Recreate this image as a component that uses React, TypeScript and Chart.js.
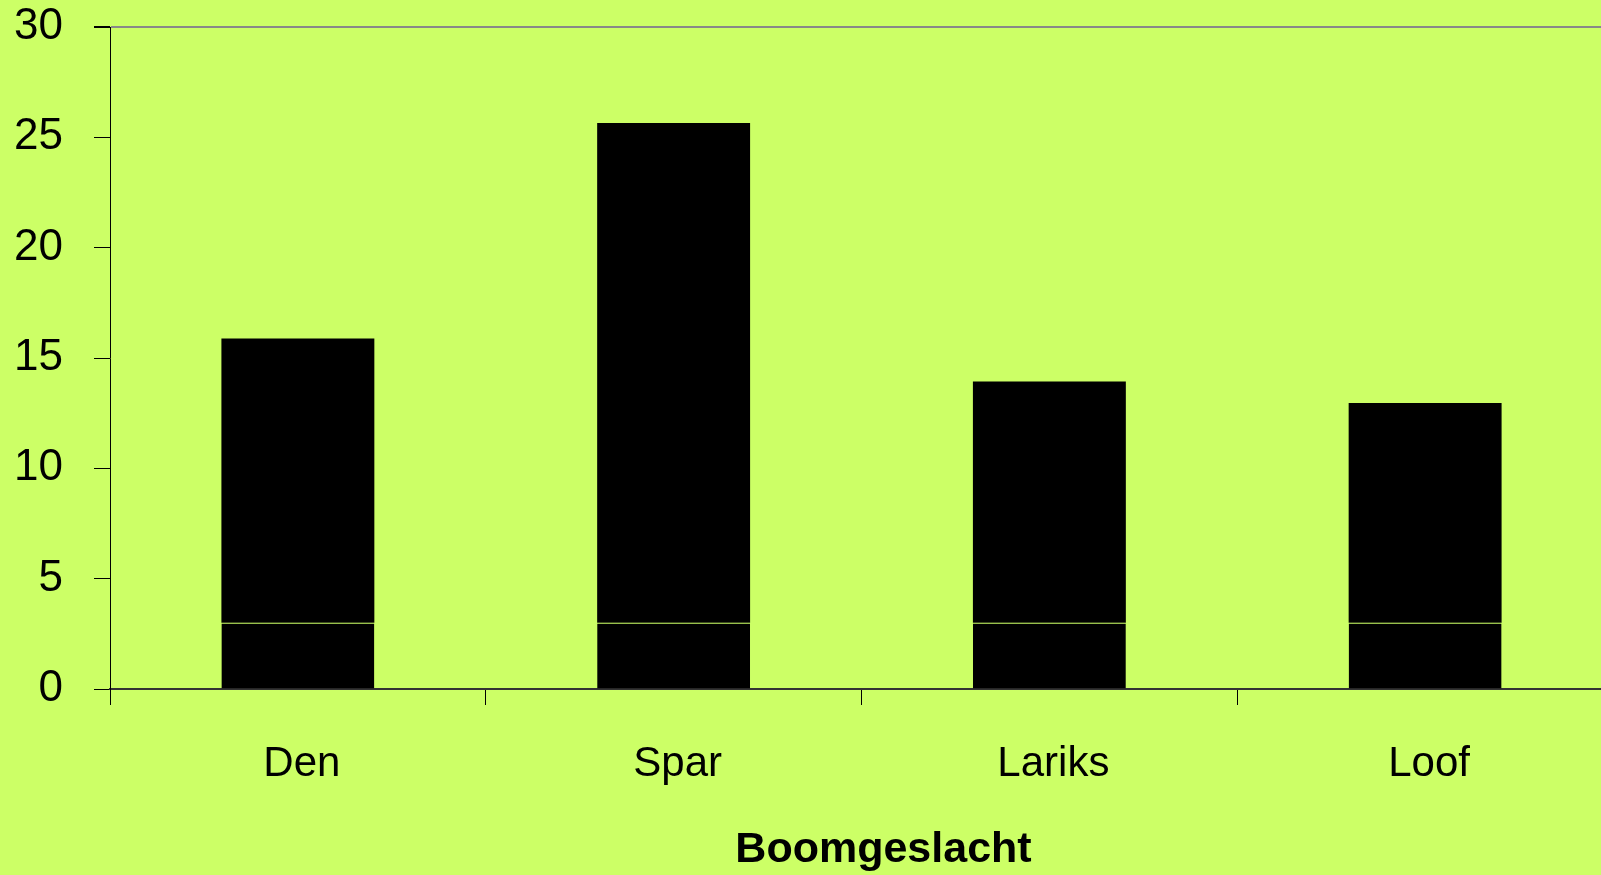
import React, { useEffect, useRef } from "react";
import { Chart, registerables } from "chart.js";

Chart.register(...registerables);

const categories = ["Den", "Spar", "Lariks", "Loof"];
const baseValues = [3, 3, 3, 3];
const upperValues = [12.88, 22.65, 10.93, 9.96];
const yMin = 0;
const yMax = 30;
const yStep = 5;
const xTitle = "Boomgeslacht";

const BG = "#CCFF66";
const FONT = "'Liberation Sans', Arial, sans-serif";

export default function App() {
  const ref = useRef<HTMLCanvasElement | null>(null);

  useEffect(() => {
    document.body.style.background = BG;
    document.body.style.overflow = "hidden";
    const canvas = ref.current!;
    const titlePlugin = {
      id: "xTitlePlugin",
      afterDraw(chart: any) {
        const { ctx, chartArea } = chart;
        ctx.save();
        ctx.font = `bold 43px ${FONT}`;
        ctx.fillStyle = "#000";
        ctx.textAlign = "center";
        ctx.textBaseline = "alphabetic";
        ctx.fillText(xTitle, (chartArea.left + chartArea.right) / 2 + 22, chartArea.bottom + 173);
        ctx.restore();
      },
    };
    const chart = new Chart(canvas, {
      type: "bar",
      data: {
        labels: categories,
        datasets: [
          {
            data: baseValues,
            backgroundColor: "#000",
            borderColor: BG,
            borderWidth: { top: 1, left: 0, right: 0, bottom: 0 },
            borderSkipped: false,
            barPercentage: 0.407,
            categoryPercentage: 1,
          },
          {
            data: upperValues,
            backgroundColor: "#000",
            borderWidth: 0,
            barPercentage: 0.407,
            categoryPercentage: 1,
          },
        ],
      },
      options: {
        responsive: false,
        animation: false,
        layout: { padding: { top: 27, right: 27, left: 0, bottom: 0 } },
        plugins: {
          legend: { display: false },
          tooltip: { enabled: false },
          title: { display: false },
        },
        scales: {
          x: {
            stacked: true,
            afterFit: (s: any) => {
              s.height = 186;
              s.paddingLeft = 0;
              s.paddingRight = 0;
            },
            grid: {
              display: true,
              offset: true,
              color: "rgba(0,0,0,0)",
              tickColor: "#000",
              tickLength: 16,
              lineWidth: 1,
            },
            border: { display: true, color: "#333", width: 2 },
            ticks: {
              color: "#000",
              font: { family: FONT, size: 42 },
              padding: 34,
              labelOffset: 4,
              maxRotation: 0,
              autoSkip: false,
            },
          },
          y: {
            stacked: true,
            min: yMin,
            max: yMax,
            afterFit: (s: any) => {
              s.width = 110;
              s.paddingTop = 0;
              s.paddingBottom = 0;
            },
            grid: {
              display: true,
              color: (c: any) => (c.tick && c.tick.value === yMax ? "#888888" : "rgba(0,0,0,0)"),
              lineWidth: (c: any) => (c.tick && c.tick.value === yMax ? 2 : 1),
              tickColor: "#000",
              tickLength: 16,
            },
            border: { display: true, color: "#000", width: 1 },
            ticks: {
              stepSize: yStep,
              color: "#000",
              font: { family: FONT, size: 44 },
              padding: 31,
            },
          },
        },
      },
      plugins: [titlePlugin],
    });
    return () => chart.destroy();
  }, []);

  return (
    <div
      style={{
        position: "fixed",
        left: 0,
        top: 0,
        width: "100vw",
        height: "100vh",
        overflow: "hidden",
        background: BG,
      }}
    >
      <canvas ref={ref} width={1640} height={875} style={{ display: "block" }} />
    </div>
  );
}
